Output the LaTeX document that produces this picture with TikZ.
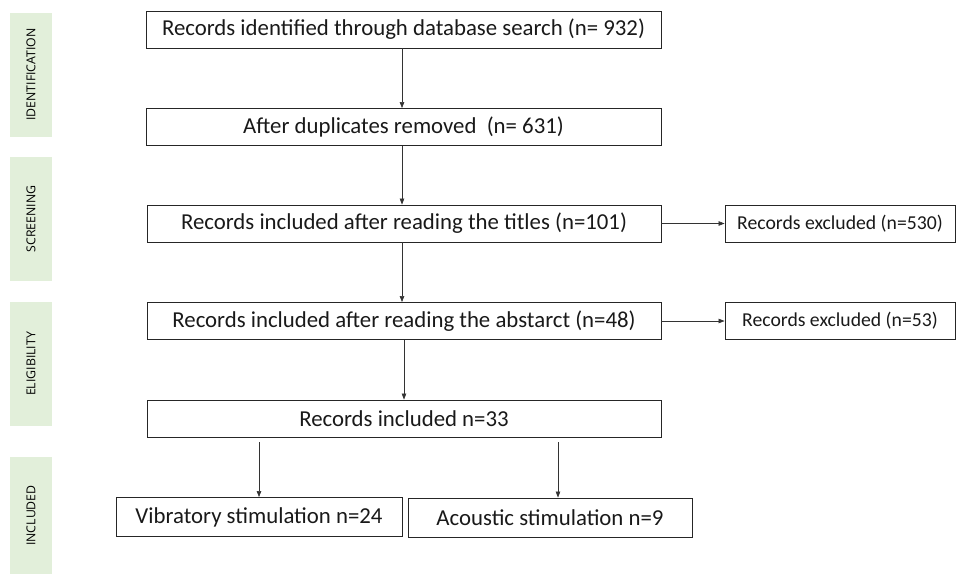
\documentclass[tikz,border=0pt]{standalone}
\usepackage{fontspec}
\setmainfont{Carlito}
\newfontfamily\bandfont{Open Sans}
\usetikzlibrary{arrows.meta}
\definecolor{bandgreen}{HTML}{E2EFDA}
\begin{document}
\begin{tikzpicture}[x=1pt,y=-1pt,
  box/.style={draw=black!85, line width=0.9pt, minimum height=37pt, inner sep=0pt, font=\fontsize{22.8}{26}\selectfont, text=black!90},
  exbox/.style={box, font=\fontsize{19.7}{23}\selectfont},
  band/.style={fill=bandgreen, rotate=90, minimum width=124pt, minimum height=42pt, inner sep=0pt, font=\bandfont\fontsize{12.3}{14}\selectfont, text=black},
  arr/.style={-{Triangle[length=6pt,width=4.5pt]}, line width=0.6pt, draw=black!80}]
\useasboundingbox (0,0) rectangle (956,574);
% side bands
\node[band] (bid) at (31,74.5) {IDENTIFICATION};
\node[band] (bsc) at (31,219) {SCREENING};
\node[band] (bel) at (31,364) {ELIGIBILITY};
\node[band, minimum width=117pt] (bin) at (31,515.5) {INCLUDED};
% main boxes
\node[box, minimum width=515pt] (b1) at (403.5,29.5) {Records identified through database search (n= 932)};
\node[box, minimum width=515pt] (b2) at (403.5,127) {After duplicates removed\ \ (n= 631)};
\node[box, minimum width=514pt] (b3) at (404,223.5) {Records included after reading the titles (n=101)};
\node[box, minimum width=514pt] (b4) at (404,321) {Records included after reading the abstarct (n=48)};
\node[box, minimum width=514pt] (b5) at (404,418.5) {Records included n=33};
\node[exbox, minimum width=230pt] (e1) at (840,223.5) {Records excluded (n=530)};
\node[exbox, minimum width=230pt] (e2) at (840,321) {Records excluded (n=53)};
\node[box, minimum width=286pt, minimum height=39pt] (v) at (259,517) {Vibratory stimulation n=24};
\node[box, minimum width=284pt, minimum height=39pt] (a) at (550,517.5) {Acoustic stimulation n=9};
% connectors
\draw[arr] ([xshift=-1.5pt]b1.south) -- ([xshift=-1.5pt]b2.north);
\draw[arr] ([xshift=-1.5pt]b2.south) -- ([xshift=-2pt]b3.north);
\draw[arr] ([xshift=-2pt]b3.south) -- ([xshift=-2pt]b4.north);
\draw[arr] (b4.south) -- (b5.north);
\draw[arr] (b3.east) -- (e1.west);
\draw[arr] (b4.east) -- (e2.west);
\draw[arr, shorten <=5pt] (b5.south -| v.north) -- (v.north);
\draw[arr, shorten <=5pt] ([xshift=8pt]b5.south -| a.north) -- ([xshift=8pt]a.north);
\end{tikzpicture}
\end{document}
